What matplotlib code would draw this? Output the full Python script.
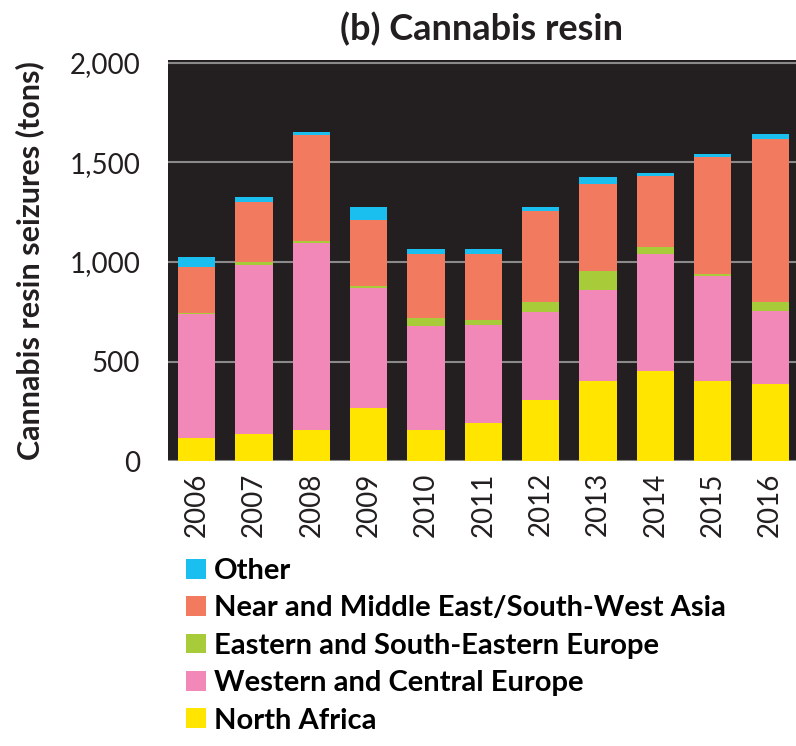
import matplotlib.pyplot as plt
import numpy as np

plt.rcParams['font.family'] = ['Lato', 'DejaVu Sans']

years = ['2006', '2007', '2008', '2009', '2010', '2011',
         '2012', '2013', '2014', '2015', '2016']
north_africa = [117, 137, 158, 267, 158, 192, 308, 400, 450, 400, 387]
western_central = [620, 850, 937, 603, 522, 490, 439, 458, 588, 530, 368]
eastern_se = [8, 11, 13, 8, 37, 25, 53, 99, 37, 12, 45]
near_middle_east = [230, 302, 530, 335, 323, 333, 458, 433, 355, 586, 817]
other = [50, 28, 17, 62, 25, 25, 17, 35, 17, 17, 25]

series = [
    ('North Africa', north_africa, '#FFE500'),
    ('Western and Central Europe', western_central, '#F288B8'),
    ('Eastern and South-Eastern Europe', eastern_se, '#A8CB3A'),
    ('Near and Middle East/South-West Asia', near_middle_east, '#F27A5E'),
    ('Other', other, '#1BBFEF'),
]

fig = plt.figure(figsize=(7.96, 7.46), dpi=100)
ax = fig.add_axes([0.211, 0.382, 0.789, 0.5376])
ax.set_facecolor('#231F20')

x = np.arange(len(years))
bottom = np.zeros(len(years))
handles = []
for name, vals, col in series:
    b = ax.bar(x, vals, 0.65, bottom=bottom, color=col, label=name, zorder=3)
    handles.append(b)
    bottom += np.array(vals)

ax.set_ylim(0, 2015)
ax.set_xlim(-0.5, 10.45)
ax.set_yticks([0, 500, 1000, 1500, 2000])
ax.set_yticklabels(['0', '500', '1,000', '1,500', '2,000'])
ax.yaxis.grid(True, color='#8a8a8a', linewidth=1.5, zorder=0)
ax.set_xticks(x)
ax.set_xticklabels(years, rotation=90)
ax.tick_params(axis='both', length=0, labelsize=20, colors='#231F20')
ax.tick_params(axis='y', pad=20)
ax.tick_params(axis='x', pad=8)
for s in ax.spines.values():
    s.set_visible(False)

ax.set_ylabel('Cannabis resin seizures (tons)', fontsize=22, fontweight='bold',
              color='#231F20', labelpad=18)
ax.set_title('(b) Cannabis resin', fontsize=26, fontweight='bold',
             color='#231F20', pad=14)

fig.legend(handles[::-1], [s[0] for s in series][::-1],
           loc='upper left', bbox_to_anchor=(0.234, 0.252),
           frameon=False, prop={'weight': 'bold', 'size': 21},
           handlelength=0.66, handleheight=0.66, handletextpad=0.3,
           labelspacing=0.39, borderaxespad=0, borderpad=0)

fig.savefig('out.png', dpi=100)
